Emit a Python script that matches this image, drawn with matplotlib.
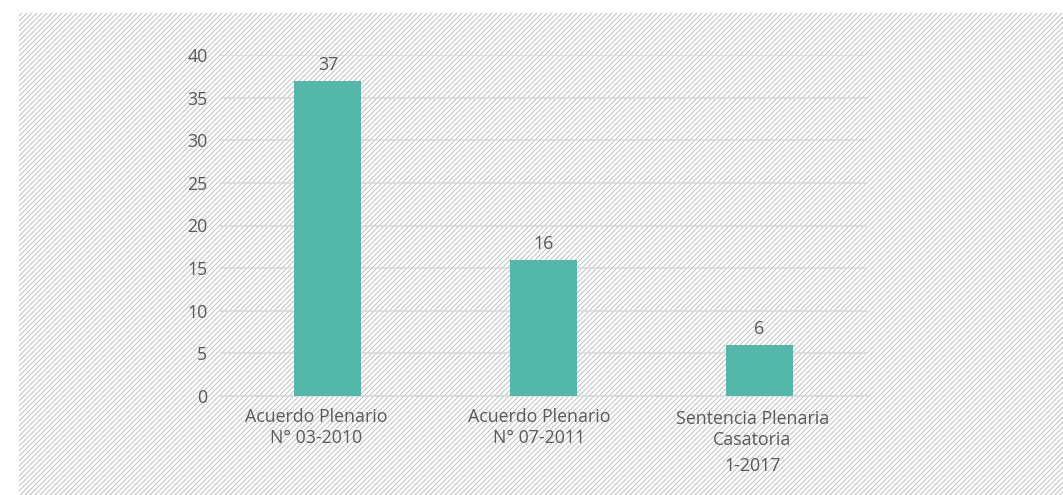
import matplotlib
matplotlib.use("Agg")
import matplotlib.pyplot as plt
from matplotlib.patches import Rectangle
from matplotlib.collections import LineCollection
from matplotlib.transforms import IdentityTransform

# ---- data ----
categories = ["Acuerdo Plenario\nN° 03-2010",
              "Acuerdo Plenario\nN° 07-2011",
              "Sentencia Plenaria\nCasatoria\n1-2017"]
values = [37, 16, 6]
yticks = [0, 5, 10, 15, 20, 25, 30, 35, 40]

BAR = "#53B7AA"
TXT = "#595959"
GRID = "#D9D9D9"
HATCH = "#BDBDBD"
FS = 14.2

DPI = 90
W, H = 1063, 495
plt.rcParams['font.family'] = ['Open Sans', 'DejaVu Sans']

fig = plt.figure(figsize=(W / DPI, H / DPI), dpi=DPI)
fig.patch.set_facecolor('white')

# hatched background (decoration, drawn in pixel space)
x0, y0, x1, y1 = 19, 0, W, H - 13
clip = Rectangle((x0, y0), x1 - x0, y1 - y0, transform=IdentityTransform(),
                 facecolor='none', edgecolor='none')
segs = []
step = 5
c = -(x1 - x0) - (y1 - y0)
while c < (y1 - y0) + (x1 - x0):
    sx = x0 + (-c if c < 0 else 0)
    sy = y0 + (0 if c < 0 else c)
    segs.append([(sx - 5, sy - 5), (sx + 2000, sy + 2000)])
    c += step
lc = LineCollection(segs, colors=HATCH, linewidths=0.75, transform=IdentityTransform(),
                    zorder=-10)
fig.add_artist(lc)
fig.patches.append(clip)
lc.set_clip_path(clip)

left, right = 220 / W, 867 / W
bottom, top = (H - 396) / H, (H - 55) / H
ax = fig.add_axes([left, bottom, right - left, top - bottom])
ax.patch.set_alpha(0)

x = list(range(len(categories)))
ax.bar(x, values, width=0.312, color=BAR, zorder=3)
ax.set_xlim(-0.5, len(categories) - 0.5)
ax.set_ylim(0, 40)
ax.set_yticks(yticks)
ax.set_yticklabels([str(t) for t in yticks], fontsize=FS, color=TXT)
ax.yaxis.grid(True, color=GRID, linewidth=1.3, zorder=0)
ax.set_axisbelow(True)
for s in ['top', 'right', 'left']:
    ax.spines[s].set_visible(False)
ax.spines['bottom'].set_color(GRID)
ax.spines['bottom'].set_linewidth(1.3)
ax.tick_params(axis='both', length=0)
ax.tick_params(axis='y', pad=10)

# category labels drawn line by line (layout offsets in pixels)
ax.set_xticks(x)
ax.set_xticklabels([])
label_dx = [-11.5, -4, -7]
label_first = [-25.7, -25.7, -28]
line_gaps = [21, 26]
for xi, c, dx, fy in zip(x, categories, label_dx, label_first):
    yoff = fy
    for i, line in enumerate(c.split("\n")):
        if i > 0:
            yoff -= line_gaps[min(i - 1, len(line_gaps) - 1)]
        ax.annotate(line, xy=(xi, 0), xycoords='data',
                    xytext=(dx, yoff), textcoords='offset pixels',
                    ha='center', va='baseline', fontsize=FS, color=TXT,
                    annotation_clip=False)

for xi, v in zip(x, values):
    ax.annotate(str(v), xy=(xi, v), xycoords='data', xytext=(0, 7),
                textcoords='offset pixels', ha='center', va='bottom',
                fontsize=FS, color=TXT)

fig.savefig("out.png", dpi=DPI, facecolor='white')
